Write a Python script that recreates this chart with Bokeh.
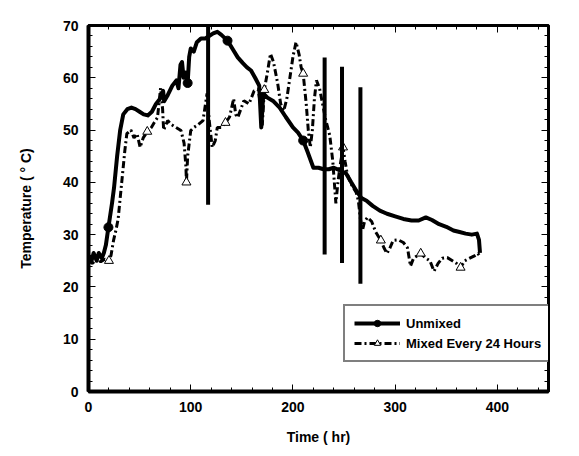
from bokeh.plotting import figure
from bokeh.models import (Range1d, SingleIntervalTicker, LinearAxis, Legend, LegendItem,
                          Arrow, ColumnDataSource)
from bokeh.embed import file_html
from bokeh.resources import INLINE

# Unmixed series (time hr, temperature C)
t_unmixed = [0, 3, 5, 8, 10, 13, 15, 17, 19.5, 23, 25, 28, 31, 34, 38, 42, 46, 50, 54, 58, 62, 66,
             70, 73, 74, 77, 82, 86, 88, 90, 91.5, 93, 95, 97, 98.5, 100, 103, 106, 110, 114, 118,
             122, 126, 130, 136, 141, 146, 151, 155, 159, 163, 167, 169, 171, 175, 181, 187, 193,
             200, 205, 210, 214, 220, 225, 230, 235, 240, 246, 252, 257, 262, 267, 272, 278, 285,
             292, 300, 308, 316, 323, 330, 336, 343, 350, 357, 363, 369, 375, 380, 382, 383]
temp_unmixed = [26, 25, 26.5, 25, 26.5, 25.5, 26.5, 28, 31.4, 36, 39, 45, 50, 53, 54, 54.3, 54, 53.5,
                53, 52.8, 53.5, 55, 56, 57.5, 55.5, 56.5, 58.5, 59.5, 58, 62.5, 63, 60, 61, 59, 64,
                65.6, 65, 66.8, 67.5, 67.5, 68, 68.5, 68.8, 68.2, 67.1, 65.5, 63.9, 62.8, 62, 61.4,
                60, 58.5, 50.5, 57, 56.2, 55.5, 54.3, 52.5, 50.5, 49.5, 48, 46, 42.8, 42.8, 42.5,
                42.5, 42.8, 42.3, 41.7, 40, 38.4, 37, 36.5, 35.5, 34.6, 34, 33.5, 33, 32.7, 32.7,
                33.3, 32.8, 32, 31.5, 30.8, 30.5, 30.2, 30, 30.2, 29, 26.5]

# Mixed every 24 hours series
t_mixed = [0, 4, 8, 12, 16, 19.5, 22, 24.5, 27, 29, 31, 33.5, 35.5, 37.5, 41.5, 44.5, 47.5, 50.5,
           53.5, 57.5, 61.5, 64.5, 67.5, 70.5, 72.5, 73.5, 77.5, 81.5, 85.5, 90.5, 93.5, 95.3, 95.8,
           97, 100, 103, 107, 112, 116, 118, 121, 124, 126, 130, 134, 138, 142, 144, 146, 149, 152,
           157, 162, 166, 169, 170, 172, 175, 178, 181, 185, 188, 191, 194, 197, 200, 203, 206, 208,
           210, 213, 215, 217, 219, 221, 223, 226, 229, 232, 236, 239, 242, 244, 246, 249, 251, 253,
           256, 259, 262, 264, 266, 268, 270, 273, 277, 281, 286, 289, 292, 295, 298, 303, 308, 312,
           315, 318, 322, 325, 330, 334, 338, 342, 346, 351, 356, 360, 364, 368, 373, 378, 381, 383]
temp_mixed = [25, 24.5, 25.5, 24.8, 25.3, 25, 26, 28.9, 31, 33, 37, 42, 46, 49.3, 50, 48.5, 49.3,
              46.7, 48.5, 49.7, 50.5, 51.5, 52.4, 58, 54, 50, 51.8, 51, 50.5, 49.9, 47.5, 43, 40,
              45, 49.9, 50.5, 51, 51.8, 57, 52, 46.7, 48, 50.5, 50.5, 51.4, 52.5, 56, 53, 52.4, 54,
              55.6, 55, 57.5, 57.7, 54, 50.9, 57.7, 61, 64.6, 63, 59, 55, 53.7, 56, 60, 64, 66.8,
              64.5, 62, 60.8, 55, 50, 46.7, 50, 56, 59.5, 58, 55, 52, 49, 44, 36, 40, 43, 46.7, 44,
              41.7, 40, 39, 38, 36.5, 33, 30.8, 32.5, 33.3, 32.5, 30.5, 28.9, 27.5, 26.4, 27.5, 28.9,
              29, 28.5, 27.5, 24, 25.5, 26, 26.4, 25.5, 25, 23, 24.5, 25.5, 25.6, 25, 24.5, 23.7, 25,
              25.5, 26, 26.4, 25.8]

# Marker points
t_unmixed_mk = [19.5, 97, 136, 210]
temp_unmixed_mk = [31.4, 59, 67.1, 48]
t_mixed_mk = [20, 57.5, 95.8, 134, 172, 210, 249, 286, 325, 364]
temp_mixed_mk = [25, 49.7, 40, 51.4, 57.7, 60.8, 46.7, 28.9, 26.4, 23.7]

# Vertical range bars
t_bar = [117, 231, 248, 266]
low_bar = [35.7, 26.2, 24.6, 20.6]
high_bar = [73.5, 63.9, 62.1, 58.2]

FONT = "Liberation Sans"

p = figure(width=579, height=456, output_backend="svg", toolbar_location=None,
           x_range=Range1d(0, 450), y_range=Range1d(0, 70),
           min_border_left=88, min_border_right=31, min_border_top=25, min_border_bottom=65,
           x_axis_label="Time ( hr)", y_axis_label="Temperature ( \u00b0 C)")
p.grid.visible = False
p.outline_line_color = "black"
p.outline_line_width = 3
p.background_fill_color = "white"
p.border_fill_color = "white"

xt = SingleIntervalTicker(interval=100, num_minor_ticks=5)
yt = SingleIntervalTicker(interval=10, num_minor_ticks=5)
p.xaxis.ticker = xt
p.yaxis.ticker = yt

for ax in [p.xaxis[0], p.yaxis[0]]:
    ax.axis_line_width = 4
    ax.major_tick_in = 7
    ax.major_tick_out = 0
    ax.minor_tick_in = 4
    ax.minor_tick_out = 0
    ax.major_tick_line_width = 1
    ax.major_label_text_font = FONT
    ax.major_label_text_font_style = "bold"
    ax.major_label_text_font_size = "14px"
    ax.major_label_text_color = "black"
    ax.axis_label_text_font = FONT
    ax.axis_label_text_font_style = "bold"
    ax.axis_label_text_font_size = "14px"
    ax.axis_label_text_color = "black"
p.xaxis.major_label_standoff = 10
p.xaxis.axis_label_standoff = 14
p.yaxis.major_label_standoff = 10
p.yaxis.axis_label_standoff = 26

for loc, tk in [("right", yt), ("above", xt)]:
    ax = LinearAxis(ticker=tk)
    ax.axis_line_width = 3
    ax.major_tick_in = 7
    ax.major_tick_out = 0
    ax.minor_tick_in = 4
    ax.minor_tick_out = 0
    ax.major_label_text_color = None
    ax.major_label_text_font_size = "8px"
    ax.major_label_standoff = 0
    p.add_layout(ax, loc)

r1 = p.line(t_unmixed, temp_unmixed, line_color="black", line_width=4, line_join="round")
m1 = p.scatter(t_unmixed_mk, temp_unmixed_mk, marker="circle", size=9,
               fill_color="black", line_color="black")
r2 = p.line(t_mixed, temp_mixed, line_color="black", line_width=3, line_dash="7 3 2 3")
m2 = p.scatter(t_mixed_mk, temp_mixed_mk, marker="triangle", size=9,
               fill_color="white", line_color="black", line_width=1)

bar_src = ColumnDataSource(dict(t=t_bar, low=low_bar, high=high_bar))
bars = Arrow(x_start="t", y_start="low", x_end="t", y_end="high", source=bar_src,
             start=None, end=None, line_width=4, line_color="black", line_cap="butt")
p.add_layout(bars)

legend = Legend(items=[LegendItem(label="Unmixed", renderers=[r1, m1]),
                       LegendItem(label="Mixed Every 24 Hours", renderers=[r2, m2])],
                location=(255, 29))
legend.label_text_font = FONT
legend.label_text_font_style = "bold"
legend.label_text_font_size = "13px"
legend.label_text_color = "black"
legend.border_line_color = "black"
legend.border_line_width = 2
legend.glyph_width = 46
legend.glyph_height = 16
legend.spacing = 4
legend.padding = 9
legend.margin = 0
legend.label_standoff = 6
legend.background_fill_alpha = 1
p.add_layout(legend)

open("out.html", "w").write(file_html(p, INLINE))
